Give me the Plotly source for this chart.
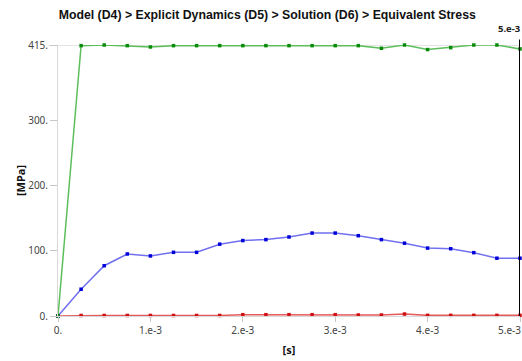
import plotly.graph_objects as go

time_ms = [0.0, 0.25, 0.5, 0.75, 1.0, 1.25, 1.5, 1.75, 2.0, 2.25, 2.5, 2.75,
           3.0, 3.25, 3.5, 3.75, 4.0, 4.25, 4.5, 4.75, 5.0]
time_s = [t * 1e-3 for t in time_ms]

max_stress = [0, 414, 415, 414, 412, 414, 414, 414, 414, 414, 414, 414,
              414, 414, 410, 415, 408, 411, 415, 415, 409]
avg_stress = [0, 41, 77, 95, 92, 97.5, 97.5, 110, 115.5, 117, 121, 127,
              127, 123, 117, 111.5, 104, 103, 97, 88.5, 88.5]
min_stress = [0, 0.8, 0.8, 0.8, 0.8, 0.8, 0.8, 0.8, 2.0, 2.0, 2.0, 2.0,
              2.0, 1.5, 1.5, 3.0, 1.0, 1.0, 1.0, 1.0, 1.0]

x_tickvals = [0, 1e-3, 2e-3, 3e-3, 4e-3, 5e-3]
x_ticktext = ["0.", "1.e-3", "2.e-3", "3.e-3", "4.e-3", ""]
last_x_label = "5.e-3"
y_tickvals = [0, 100, 200, 300, 415]
y_ticktext = ["0.", "100.", "200.", "300.", "415."]

title_text = "Model (D4) > Explicit Dynamics (D5) > Solution (D6) > Equivalent Stress"
cursor_time = 5e-3
cursor_label = "5.e-3"

fig = go.Figure()

series = [
    (min_stress, "#e65a5a", "#d01010", "Minimum"),
    (avg_stress, "#7070f0", "#0000d8", "Average"),
    (max_stress, "#5cbf5c", "#0a8a0a", "Maximum"),
]
for vals, lc, mc, name in series:
    fig.add_trace(go.Scatter(
        x=time_s, y=vals, mode="lines+markers", name=name,
        line=dict(color=lc, width=1.5),
        marker=dict(color=mc, size=3.5, symbol="square"),
        cliponaxis=False,
    ))

fig.add_shape(type="line", xref="x", yref="paper", x0=cursor_time, x1=cursor_time,
              y0=0, y1=1.02, line=dict(color="black", width=2))
fig.add_annotation(x=cursor_time, xref="x", y=1.03, yref="paper", text="<b>" + cursor_label + "</b>",
                   showarrow=False, xanchor="right", yanchor="bottom", xshift=3,
                   font=dict(family="Noto Sans", size=9.5, color="#222"))
fig.add_annotation(x=x_tickvals[-1], xref="x", y=0, yref="paper", text=last_x_label,
                   showarrow=False, xanchor="right", yanchor="top", xshift=3, yshift=-5,
                   font=dict(family="Noto Sans", size=10, color="#444"))

fig.update_layout(
    width=522, height=361,
    margin=dict(l=58, r=2, t=45, b=45),
    paper_bgcolor="white", plot_bgcolor="white",
    showlegend=False,
    title=dict(text="<b>" + title_text + "</b>", x=0.512, xanchor="center",
               y=0.96, yanchor="middle",
               font=dict(family="Liberation Sans", size=12.3, color="#111")),
    xaxis=dict(range=[0, 5e-3], tickvals=x_tickvals, ticktext=x_ticktext,
               showgrid=False, zeroline=False, showline=True, linecolor="#d8d8d8",
               ticks="outside", ticklen=5, tickcolor="#c8c8c8",
               tickfont=dict(family="Noto Sans", size=10, color="#444"),
               title=dict(text="<b>[s]</b>", standoff=10,
                          font=dict(family="Noto Sans", size=11, color="#111"))),
    yaxis=dict(range=[0, 415], tickvals=y_tickvals, ticktext=y_ticktext,
               showgrid=False, zeroline=False, showline=True, linecolor="#d8d8d8",
               ticks="outside", ticklen=7, tickcolor="#c8c8c8",
               tickfont=dict(family="Noto Sans", size=10, color="#444"),
               title=dict(text="<b>[MPa]</b>", standoff=0,
                          font=dict(family="Noto Sans", size=11, color="#111"))),
)
fig.add_shape(type="line", xref="paper", yref="y", x0=-0.02, x1=1, y0=415, y1=415,
              line=dict(color="#c8c8c8", width=1), layer="below")

fig.write_html("out.html")
